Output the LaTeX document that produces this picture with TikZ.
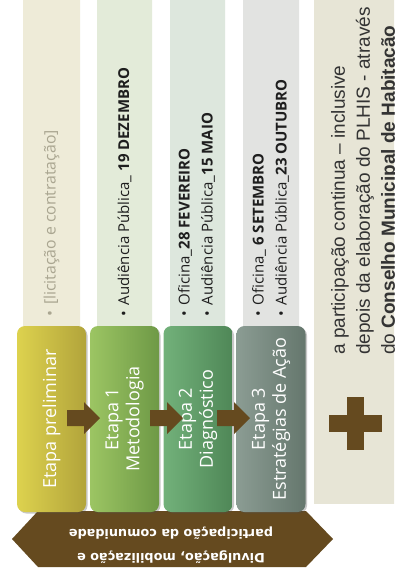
\documentclass[tikz,border=0pt]{standalone}
\usepackage{fontspec}
\setmainfont{Open Sans}
\newfontfamily\panelfont{Liberation Sans}
\newfontfamily\bannerfont{DejaVu Sans}
\usetikzlibrary{shadows}

% palette
\definecolor{earth}{HTML}{654A1F}
\definecolor{colA}{HTML}{EEEBD8}
\definecolor{colB}{HTML}{E3EBD9}
\definecolor{colC}{HTML}{DDE7DD}
\definecolor{colD}{HTML}{E2E3E1}
\definecolor{panelbg}{HTML}{E7E5D6}
\definecolor{mutedtext}{HTML}{AAA691}
\definecolor{darktext}{HTML}{1E1E1E}
\definecolor{paneltext}{HTML}{333333}
\definecolor{yelL}{HTML}{DDD24E}
\definecolor{yelR}{HTML}{B2A43B}
\definecolor{grnL}{HTML}{9CC563}
\definecolor{grnR}{HTML}{6E9946}
\definecolor{midL}{HTML}{72B17A}
\definecolor{midR}{HTML}{4F8757}
\definecolor{gryL}{HTML}{8B9C93}
\definecolor{gryR}{HTML}{65776D}

\tikzset{
  colband/.style={fill=#1, rounded corners=3pt},
  stagebox/.style={rounded corners=8pt, minimum width=69pt, minimum height=186pt,
    inner sep=0pt, draw=none,
    drop shadow={shadow xshift=1.5pt, shadow yshift=-1.5pt, opacity=0.3, fill=black!70}},
  stagelabel/.style={rotate=90, text=white, align=center, inner sep=0pt,
    font=\fontsize{18}{21}\selectfont},
  coltext/.style={rotate=90, anchor=west, align=left, inner sep=0pt,
    text=darktext, font=\fontsize{15}{23}\selectfont},
}

% block arrow between two stages, starting at x=#1
\newcommand\stagearrow[1]{%
  \fill[earth] (#1,410) -- ++(17,0) -- ++(0,-8) -- ++(16,16) -- ++(-16,16)
    -- ++(0,-8) -- ++(-17,0) -- cycle;}

\begin{document}
\begin{tikzpicture}[x=1pt,y=-1pt]
\clip (0,0) rectangle (394,580);
\fill[white] (0,0) rectangle (394,580);

% activity columns behind the stages
\fill[colband=colA] (23,-5) rectangle (80,400);
\fill[colband=colB] (97,-5) rectangle (152,400);
\fill[colband=colC] (170,-5) rectangle (225,400);
\fill[colband=colD] (243,-5) rectangle (299,400);

% right-hand note panel
\fill[panelbg] (314,-5) rectangle (400,504);

% community participation banner (double-headed)
\fill[earth] (12,539) -- (38,511) -- (306,511) -- (333,539) -- (306,567) -- (38,567) -- cycle;
\node[rotate=180, text=white, align=center, inner sep=0pt,
      font=\bannerfont\bfseries\fontsize{12.8}{24}\selectfont] (banner) at (171,545)
  {Divulgação, mobilização e\\participação da comunidade};

% stages
\node[stagebox, left color=yelL, right color=yelR] (s0) at (51.5,419) {};
\node[stagebox, left color=grnL, right color=grnR] (s1) at (124.5,419) {};
\node[stagebox, left color=midL, right color=midR] (s2) at (198,419) {};
\node[stagebox, left color=gryL, right color=gryR] (s3) at (271,419) {};

\node[stagelabel] (s0t) at (s0.center) {Etapa preliminar};
\node[stagelabel] (s1t) at (s1.center) {Etapa 1\\Metodologia};
\node[stagelabel] (s2t) at (s2.center) {Etapa 2\\Diagnóstico};
\node[stagelabel] (s3t) at (s3.center) {Etapa 3\\Estratégias de Ação};

% flow between stages
\stagearrow{67}
\stagearrow{150}
\stagearrow{217}

% activities of each stage
\node[coltext, text=mutedtext, font=\fontsize{15.8}{23}\selectfont] (c0) at (51.5,317)
  {•\hspace{6pt}[licitação e contratação]};
\node[coltext] (c1) at (124.5,317) {•\hspace{6pt}Audiência Pública\_ \textbf{19 DEZEMBRO}};
\node[coltext] (c2) at (196.5,317)
  {•\hspace{6pt}Oficina\_\textbf{28 FEVEREIRO}\\•\hspace{6pt}Audiência Pública\_\textbf{15 MAIO}};
\node[coltext] (c3) at (270.5,317)
  {•\hspace{6pt}Oficina\_ \textbf{6 SETEMBRO}\\•\hspace{6pt}Audiência Pública\_\textbf{23 OUTUBRO}};

% plus sign
\fill[earth] (347,397) rectangle (364,450);
\fill[earth] (329,415) rectangle (382,432);

% continuing participation note
\node[rotate=90, anchor=west, align=left, inner sep=0pt, text=paneltext,
      font=\panelfont\fontsize{19}{25}\selectfont] (note) at (365,355)
  {a participação continua – inclusive\\depois da elaboração do PLHIS - através\\do \textbf{Conselho Municipal de Habitação}};
\end{tikzpicture}
\end{document}
